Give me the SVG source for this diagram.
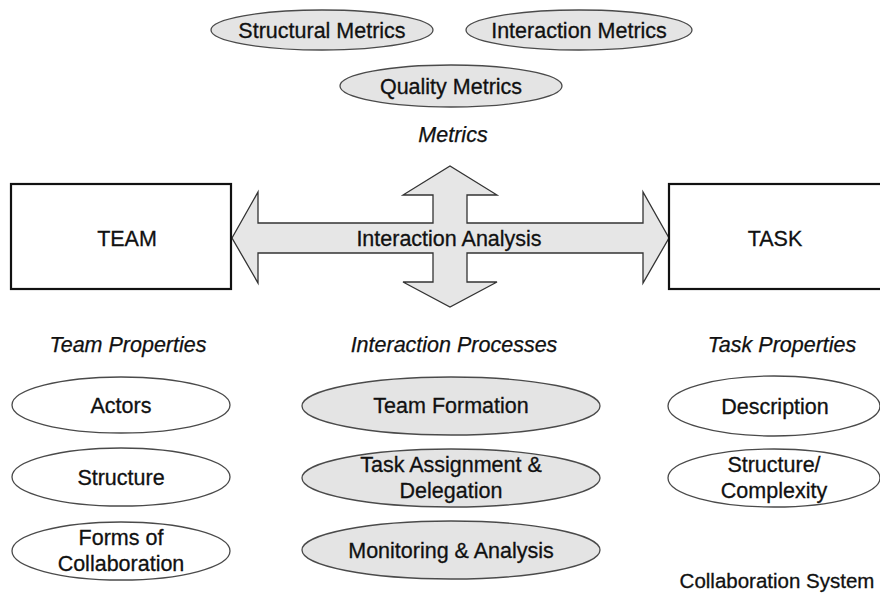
<svg xmlns="http://www.w3.org/2000/svg" width="880" height="593" viewBox="0 0 880 593">
  <style>
    .lbl { font-family: "Liberation Sans", Arial, sans-serif; font-size: 21.5px; fill: #111; stroke: #111; stroke-width: 0.3; text-anchor: middle; }
    .cap { font-family: "Liberation Sans", Arial, sans-serif; font-size: 21.5px; font-style: italic; fill: #111; stroke: #111; stroke-width: 0.25; text-anchor: middle; }
    .ell-w { fill: #ffffff; stroke: #4a4a4a; stroke-width: 1.3; }
    .ell-g { fill: #e4e4e4; stroke: #4a4a4a; stroke-width: 1.3; }
    .box { fill: #ffffff; stroke: #111; stroke-width: 2.2; }
    .arrow { fill: #e6e6e6; stroke: #333; stroke-width: 1.3; stroke-linejoin: miter; }
  </style>
  <rect width="880" height="593" fill="#ffffff"/>

  <!-- metrics -->
  <g id="structural-metrics">
    <ellipse class="ell-g" cx="322" cy="30" rx="111" ry="20"/>
    <text class="lbl" x="322" y="38">Structural Metrics</text>
  </g>
  <g id="interaction-metrics">
    <ellipse class="ell-g" cx="579" cy="30" rx="113" ry="20"/>
    <text class="lbl" x="579" y="38">Interaction Metrics</text>
  </g>
  <g id="quality-metrics">
    <ellipse class="ell-g" cx="451" cy="86" rx="111" ry="21"/>
    <text class="lbl" x="451" y="94">Quality Metrics</text>
  </g>
  <text class="cap" x="453" y="142">Metrics</text>

  <!-- central cross arrow -->
  <g id="connectors">
    <path class="arrow" d="M232,238 L258,192 L258,223 L433,223 L433,195 L403,195 L450,166 L497,195 L467,195 L467,223 L643,223 L643,192 L669,238 L643,283 L643,253 L467,253 L467,282 L497,282 L450,307 L403,282 L433,282 L433,253 L258,253 L258,283 Z"/>
    <text class="lbl" x="449" y="246">Interaction Analysis</text>
  </g>

  <!-- main boxes -->
  <g id="team">
    <rect class="box" x="11" y="184" width="220" height="105"/>
    <text class="lbl" x="127" y="246">TEAM</text>
  </g>
  <g id="task">
    <rect class="box" x="669" y="184" width="220" height="105"/>
    <text class="lbl" x="775" y="246">TASK</text>
  </g>

  <!-- column captions -->
  <text class="cap" x="128" y="352">Team Properties</text>
  <text class="cap" x="454" y="352">Interaction Processes</text>
  <text class="cap" x="782" y="352">Task Properties</text>

  <!-- team properties -->
  <g id="actors">
    <ellipse class="ell-w" cx="121" cy="405" rx="109" ry="28"/>
    <text class="lbl" x="121" y="413">Actors</text>
  </g>
  <g id="structure">
    <ellipse class="ell-w" cx="121" cy="477" rx="109" ry="29"/>
    <text class="lbl" x="121" y="485">Structure</text>
  </g>
  <g id="forms-of-collaboration">
    <ellipse class="ell-w" cx="121" cy="551" rx="109" ry="29"/>
    <text class="lbl" x="121" y="545">Forms of</text>
    <text class="lbl" x="121" y="571">Collaboration</text>
  </g>

  <!-- interaction processes -->
  <g id="team-formation">
    <ellipse class="ell-g" cx="451" cy="406" rx="149" ry="29"/>
    <text class="lbl" x="451" y="413">Team Formation</text>
  </g>
  <g id="task-assignment">
    <ellipse class="ell-g" cx="451" cy="478" rx="149" ry="29"/>
    <text class="lbl" x="451" y="472">Task Assignment &amp;</text>
    <text class="lbl" x="451" y="498">Delegation</text>
  </g>
  <g id="monitoring">
    <ellipse class="ell-g" cx="451" cy="550" rx="149" ry="29"/>
    <text class="lbl" x="451" y="558">Monitoring &amp; Analysis</text>
  </g>

  <!-- task properties -->
  <g id="description">
    <ellipse class="ell-w" cx="774" cy="406" rx="106" ry="30"/>
    <text class="lbl" x="775" y="414">Description</text>
  </g>
  <g id="structure-complexity">
    <ellipse class="ell-w" cx="774" cy="478" rx="106" ry="29"/>
    <text class="lbl" x="774" y="472">Structure/</text>
    <text class="lbl" x="774" y="498">Complexity</text>
  </g>

  <text class="lbl" x="777" y="588" style="font-size:20.5px">Collaboration System</text>
</svg>
